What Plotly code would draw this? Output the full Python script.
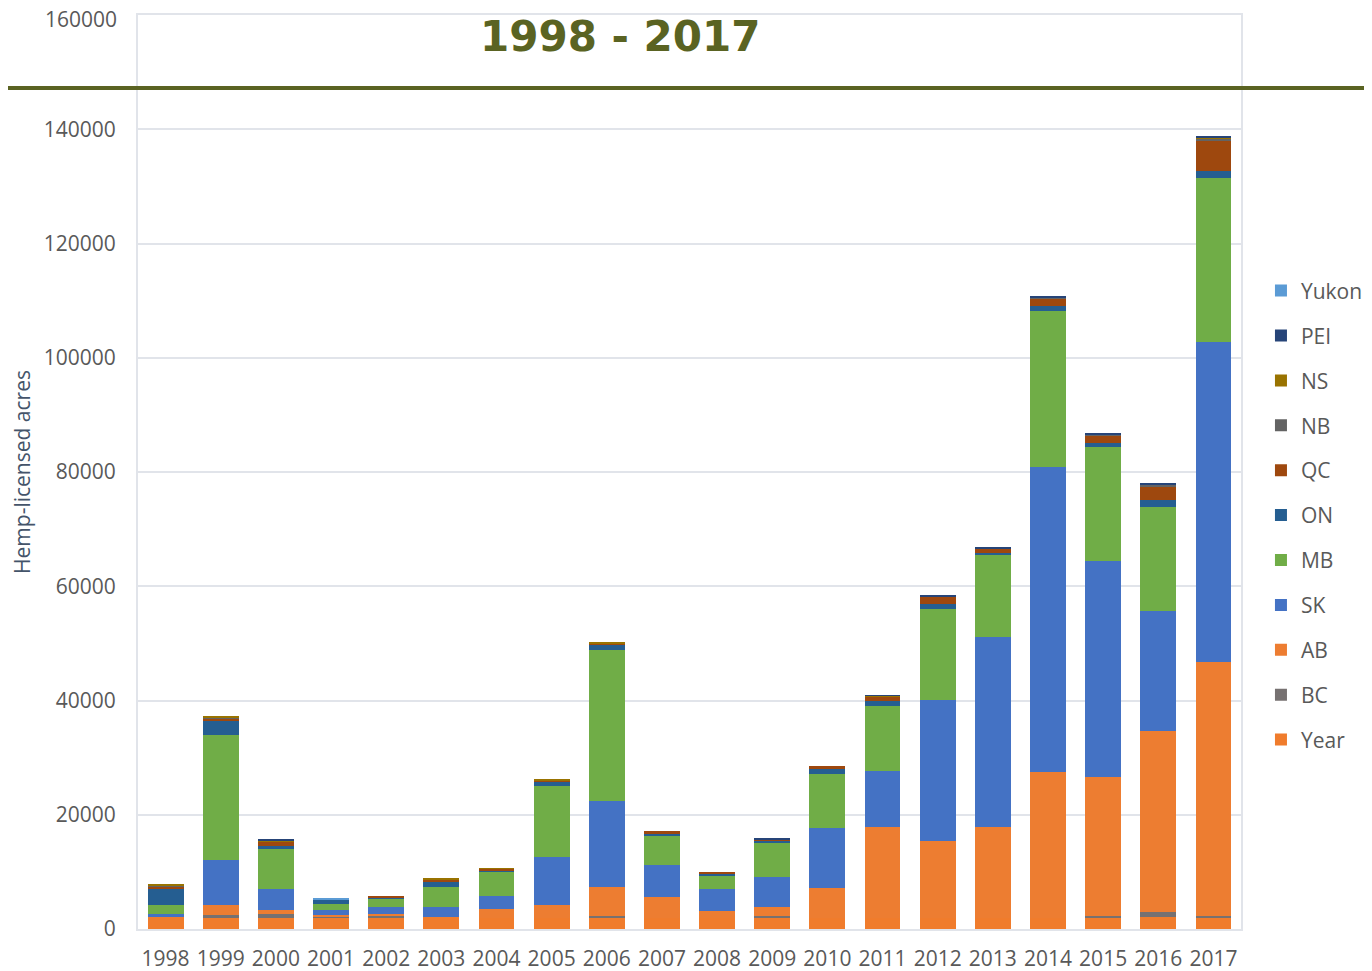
import plotly.graph_objects as go

years = [str(y) for y in range(1998, 2018)]
Year = [1998, 1999, 2000, 2001, 2002, 2003, 2004, 2005, 2006, 2007,
        2008, 2009, 2010, 2011, 2012, 2013, 2014, 2015, 2016, 2017]
BC = [0, 470, 650, 200, 300, 0, 0, 0, 300, 0, 0, 250, 0, 0, 0, 0, 0, 300, 930, 300]
AB = [100, 1750, 700, 300, 350, 150, 1500, 2145, 5020, 3650, 1200, 1640, 5110, 15890,
      13390, 15890, 25515, 24285, 31700, 44460]
SK = [580, 7875, 3620, 875, 1170, 1750, 2330, 8460, 15000, 5600, 3790, 5130, 10620, 9800,
      24675, 33130, 53320, 37800, 21050, 55950]
MB = [1460, 21875, 7060, 1050, 1460, 3500, 4080, 12370, 26430, 5075, 2450, 6125, 9330, 11375,
      15870, 14580, 27250, 19900, 18150, 28820]
ON = [2920, 2500, 580, 820, 230, 875, 400, 760, 990, 350, 175, 290, 875, 875,
      930, 230, 990, 700, 1200, 1170]
QC = [350, 400, 700, 0, 290, 350, 200, 250, 290, 400, 350, 175, 580, 700,
      1400, 760, 1225, 1280, 2500, 5250]
NB = [250, 100, 0, 0, 0, 0, 0, 0, 0, 0, 0, 0, 0, 0, 0, 0, 150, 350, 300, 400]
NS = [300, 200, 175, 0, 0, 175, 100, 150, 175, 0, 0, 0, 0, 150, 0, 0, 0, 0, 0, 175]
PEI = [0, 0, 200, 0, 0, 0, 0, 0, 0, 0, 0, 175, 0, 150, 150, 290, 290, 150, 200, 230]
Yukon = [0, 0, 0, 175, 0, 0, 0, 0, 0, 0, 0, 0, 0, 0, 0, 0, 0, 0, 0, 0]

y_ticks = [0, 20000, 40000, 60000, 80000, 100000, 120000, 140000]
y_top_tick = 160000

series = [
    ("Year", Year, "#F07C2C"),
    ("BC", BC, "#767171"),
    ("AB", AB, "#ED7D31"),
    ("SK", SK, "#4472C4"),
    ("MB", MB, "#70AD47"),
    ("ON", ON, "#255E91"),
    ("QC", QC, "#9E480E"),
    ("NB", NB, "#636363"),
    ("NS", NS, "#997300"),
    ("PEI", PEI, "#264478"),
    ("Yukon", Yukon, "#5B9BD5"),
]

fig = go.Figure()
n = len(series)
for i, (name, vals, col) in enumerate(series):
    fig.add_trace(go.Bar(x=years, y=vals, name=name, legendgroup=name,
                         legendrank=n - i,
                         marker=dict(color=col, line=dict(width=0))))

grid = "#E1E4EA"
fig.update_layout(
    barmode="stack",
    bargap=0.35,
    width=1364, height=963,
    margin=dict(l=130, r=131, t=7, b=42, autoexpand=False),
    paper_bgcolor="white", plot_bgcolor="white",
    font=dict(family="Open Sans", color="#595959", size=21),
    showlegend=True,
    legend=dict(x=1.0181, xanchor="left", y=0.7205, yanchor="top",
                traceorder="grouped", tracegroupgap=14.6,
                font=dict(size=21, color="#595959"), bgcolor="rgba(0,0,0,0)"),
    xaxis=dict(type="category", showgrid=False, showline=True, mirror=True,
               automargin=False, ticklabelstandoff=10,
               linecolor=grid, linewidth=2, ticks="", tickfont=dict(size=21, color="#595959")),
    yaxis=dict(range=[0, y_top_tick], tickvals=y_ticks, showgrid=True, gridcolor=grid, gridwidth=2,
               showline=True, mirror=True, linecolor=grid, linewidth=2, zeroline=False,
               automargin=False, ticklabelstandoff=16,
               tickformat="d", ticks="", ticklen=0, tickfont=dict(size=21, color="#595959"),
               title=dict(text="Hemp-licensed acres", standoff=12,
                          font=dict(size=21, color="#44546A"))),
    shapes=[dict(type="line", xref="paper", yref="paper", x0=-0.3, x1=1.3,
                 y0=0.9201, y1=0.9201, line=dict(color="#5A6322", width=4))],
    annotations=[
        dict(text="<b>1998 - 2017</b>", xref="paper", yref="paper",
             x=0.437, y=0.976, xanchor="center", yanchor="middle",
             showarrow=False,
             font=dict(family="DejaVu Sans", size=42, color="#5A6322")),
        dict(text=str(y_top_tick), xref="paper", yref="y",
             x=0, y=y_top_tick, xanchor="right", yanchor="middle",
             xshift=-19, yshift=-4, showarrow=False,
             font=dict(family="Open Sans", size=21, color="#595959")),
    ],
)

fig.write_html("out.html")
